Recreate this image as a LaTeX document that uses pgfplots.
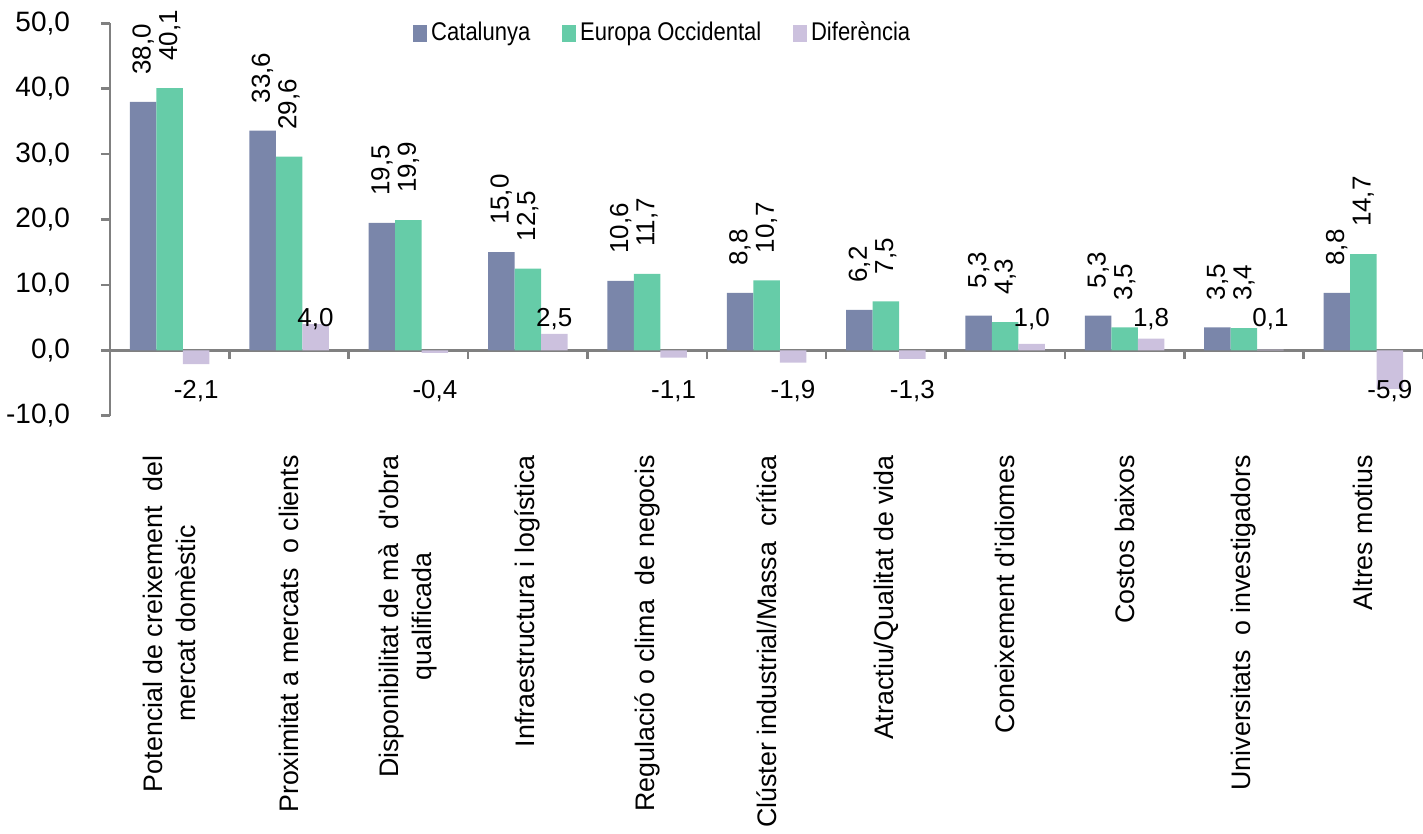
\documentclass[border=0pt]{standalone}
\usepackage{pgfplots}
\pgfplotsset{compat=1.18}
\usepackage{pgfplotstable}
\usepackage{fontspec}
\setmainfont{Liberation Sans}[Ligatures=TeXOff]
\newfontfamily\legfont[FakeStretch=0.86]{Liberation Sans}
\definecolor{catc}{RGB}{122,134,170}
\definecolor{eurc}{RGB}{102,204,168}
\definecolor{difc}{RGB}{204,193,222}
\definecolor{axc}{RGB}{128,128,128}
\pgfplotstableread{
x cat eur dif
0 38.0 40.1 -2.1
1 33.6 29.6 4.0
2 19.5 19.9 -0.4
3 15.0 12.5 2.5
4 10.6 11.7 -1.1
5 8.8 10.7 -1.9
6 6.2 7.5 -1.3
7 5.3 4.3 1.0
8 5.3 3.5 1.8
9 3.5 3.4 0.1
10 8.8 14.7 -5.9
}\data
\newcommand{\lf}{\fontsize{13bp}{16.5bp}\selectfont}
\begin{document}
\begin{tikzpicture}
\path[use as bounding box] (-55bp,-209.15bp) rectangle (656.5bp,207.85bp);
\begin{axis}[
  at={(0,0)}, anchor=south west,
  scale only axis, width=656.5bp, height=196.2bp,
  xmin=-0.5, xmax=10.5, ymin=-10, ymax=50,
  axis x line=middle, axis y line=left,
  axis line style={-, draw=axc, line width=1.3bp},
  clip=false,
  /pgf/number format/.cd, fixed, fixed zerofill, precision=1, use comma, assume math mode=true,
  /pgfplots/.cd,
  ytick={-10,0,...,50},
  xtick={0,...,10},
  minor xtick={-0.5,0.5,...,10.5},
  tick align=outside,
  major tick length=4.5bp, minor tick length=4.5bp,
  tick style={draw=axc, line width=1.3bp},
  major x tick style={draw=none},
  tick label style={font=\lf},
  yticklabel style={xshift=-12bp, font=\fontsize{14bp}{16bp}\selectfont},
  xticklabels={{Potencial de creixement\ \ del\\mercat domèstic},
    {Proximitat a mercats\ \ o clients},
    {Disponibilitat de mà\ \ d'obra\\qualificada},
    {Infraestructura i logística},
    {Regulació o clima\ \ de negocis},
    {Clúster industrial/Massa\ \ crítica},
    {Atractiu/Qualitat de vida},
    {Coneixement d'idiomes},
    {Costos baixos},
    {Universitats\ \ o investigadors},
    {Altres motius}},
  xticklabel style={yshift=-44.5bp, rotate=90, anchor=east, align=center,
    font=\fontsize{13.4bp}{16.5bp}\selectfont},
  legend columns=3,
  legend style={draw=none, fill=none, at={(0.2308,0.9753)}, anchor=west, inner sep=0pt,
    font=\legfont\fontsize{12.8bp}{14bp}\selectfont,
    nodes={inner xsep=2bp, inner ysep=0pt},
    /tikz/every even column/.append style={column sep=14bp}},
]
\addplot[ybar, bar width=0.222, bar shift=-0.222, fill=catc, draw=none, forget plot]
  table[x=x, y=cat]{\data};
\addplot[ybar, bar width=0.222, bar shift=0, fill=eurc, draw=none, forget plot]
  table[x=x, y=eur]{\data};
\addplot[ybar, bar width=0.222, bar shift=0.222, fill=difc, draw=none, forget plot]
  table[x=x, y=dif]{\data};
% value labels
\addplot[draw=none, mark=none, forget plot, nodes near coords, point meta=explicit,
  nodes near coords style={rotate=90, anchor=west, inner sep=0pt, font=\lf, text=black}]
  table[x expr=\thisrow{x}-0.222, y expr=\thisrow{cat}+4.1, meta=cat]{\data};
\addplot[draw=none, mark=none, forget plot, nodes near coords, point meta=explicit,
  nodes near coords style={rotate=90, anchor=west, inner sep=0pt, font=\lf, text=black}]
  table[x expr=\thisrow{x}, y expr=\thisrow{eur}+4.1, meta=eur]{\data};
\addplot[draw=none, mark=none, forget plot, nodes near coords, point meta=explicit,
  nodes near coords style={anchor=center, inner sep=0pt, font=\lf, text=black}]
  table[x expr=\thisrow{x}+0.222, y expr={\thisrow{dif}>0 ? 4.75 : -6.2}, meta=dif]{\data};
\addlegendimage{legend image code/.code={\fill[catc] (0bp,-4bp) rectangle (6.5bp,4bp);}}
\addlegendentry{Catalunya}
\addlegendimage{legend image code/.code={\fill[eurc] (0bp,-4bp) rectangle (6.5bp,4bp);}}
\addlegendentry{Europa Occidental}
\addlegendimage{legend image code/.code={\fill[difc] (0bp,-4bp) rectangle (6.5bp,4bp);}}
\addlegendentry{Diferència}
\end{axis}
\end{tikzpicture}
\end{document}
